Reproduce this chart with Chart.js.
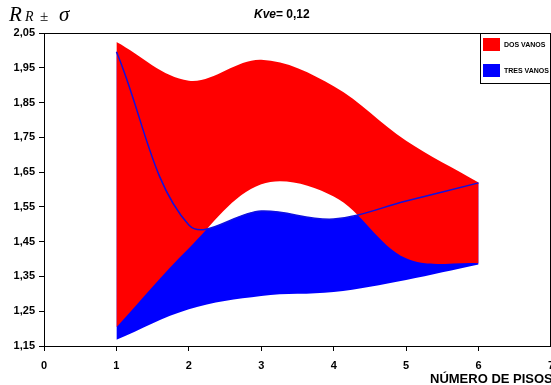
<!DOCTYPE html>
<html><head><meta charset="utf-8">
<script src="https://cdn.jsdelivr.net/npm/chart.js@4.4.0/dist/chart.umd.min.js"></script>
<style>html,body{margin:0;padding:0;background:#fff;overflow:hidden}#wrap{position:relative;width:551px;height:385px}</style>
</head><body><div id="wrap"><canvas id="c" width="551" height="385"></canvas></div>
<script>
const pisos = [1, 2, 3, 4, 5, 6];
const dosSup = [2.024, 1.913, 1.973, 1.897, 1.740, 1.620];
const dosInf = [1.204, 1.431, 1.615, 1.580, 1.402, 1.388];
const tresSup = [1.996, 1.498, 1.538, 1.515, 1.567, 1.619];
const tresInf = [1.168, 1.256, 1.294, 1.305, 1.340, 1.384];
const xTicks = [0, 1, 2, 3, 4, 5, 6, 7];
const yTicks = [1.15, 1.25, 1.35, 1.45, 1.55, 1.65, 1.75, 1.85, 1.95, 2.05];
const legendLabels = ['DOS VANOS', 'TRES VANOS'];
const titleText = 'Kve= 0,12';
const xTitle = 'NÚMERO DE PISOS';

const RED = '#ff0000', BLUE = '#0000ff';
const SANS = '"Liberation Sans", Arial, sans-serif';
const SERIF = '"Liberation Serif", "Times New Roman", serif';
Chart.defaults.font.family = SANS;

const pts = arr => pisos.map((x, i) => ({x: x, y: arr[i]}));
const T = 0.35, TB = 0.36;

const decor = {
  id: 'decor',
  afterDraw(chart) {
    const ctx = chart.ctx, a = chart.chartArea;
    ctx.save();
    // frame top & right
    ctx.strokeStyle = '#000'; ctx.lineWidth = 1;
    ctx.beginPath();
    ctx.moveTo(a.left, a.top + 0.5); ctx.lineTo(a.right, a.top + 0.5);
    ctx.moveTo(a.right - 0.5, a.top); ctx.lineTo(a.right - 0.5, a.bottom);
    ctx.stroke();
    // legend
    ctx.fillStyle = '#fff';
    ctx.fillRect(481, 34, 70, 50);
    ctx.strokeStyle = '#000';
    ctx.strokeRect(480.5, 33.5, 70, 50);
    ctx.fillStyle = RED; ctx.fillRect(483, 38, 17, 13);
    ctx.fillStyle = BLUE; ctx.fillRect(483, 64, 17, 13);
    ctx.fillStyle = '#000';
    ctx.font = 'bold 7px ' + SANS;
    ctx.textBaseline = 'middle'; ctx.textAlign = 'left';
    ctx.fillText(legendLabels[0], 504, 45);
    ctx.fillText(legendLabels[1], 504, 71);
    // title R_R ± sigma
    ctx.textBaseline = 'alphabetic';
    ctx.font = 'italic 21px ' + SERIF;
    ctx.fillText('R', 9, 21);
    ctx.font = 'italic 14px ' + SERIF;
    ctx.fillText('R', 25, 21);
    ctx.font = '15px ' + SERIF;
    ctx.fillText('±', 40, 21);
    ctx.font = 'italic 21px ' + SERIF;
    ctx.fillText('σ', 59, 21);
    // Kve title
    ctx.font = 'bold italic 12px ' + SANS;
    ctx.fillText('Kve', 254, 18);
    const w = ctx.measureText('Kve').width;
    ctx.font = 'bold 12px ' + SANS;
    ctx.fillText(titleText.slice(3), 254 + w, 18);
    // x title
    ctx.font = 'bold 13px ' + SANS;
    ctx.fillText(xTitle, 430, 383);
    ctx.restore();
  }
};

new Chart(document.getElementById('c'), {
  type: 'line',
  data: {
    datasets: [
      {label: 'dosInf', data: pts(dosInf), borderWidth: 0, pointRadius: 0, fill: false, tension: T, order: 3},
      {label: 'DOS VANOS', data: pts(dosSup), borderWidth: 0, borderColor: RED, backgroundColor: RED, pointRadius: 0, fill: 0, tension: T, order: 2},
      {label: 'tresInf', data: pts(tresInf), borderWidth: 0, pointRadius: 0, fill: false, tension: T, order: 5},
      {label: 'TRES VANOS', data: pts(tresSup), borderWidth: 0, borderColor: BLUE, backgroundColor: BLUE, pointRadius: 0, fill: 2, tension: TB, order: 4},
      {label: 'tresSupLine', data: pts(tresSup), borderWidth: 1.5, borderColor: '#1010e0', pointRadius: 0, fill: false, tension: TB, order: 0}
    ]
  },
  options: {
    responsive: false,
    animation: false,
    layout: {padding: {top: 33, left: 0, right: 0, bottom: 0}},
    plugins: {legend: {display: false}, tooltip: {enabled: false}, filler: {propagate: false}},
    scales: {
      x: {
        type: 'linear', min: 0, max: 7,
        afterBuildTicks: s => { s.ticks = xTicks.map(v => ({value: v})); },
        afterFit: s => { s.height = 39; s.paddingLeft = 0; s.paddingRight = 0; },
        ticks: {color: '#000', font: {size: 11, weight: 'bold'}, padding: 8, maxRotation: 0, autoSkip: false, callback: v => String(v)},
        grid: {drawOnChartArea: false, drawTicks: true, tickLength: 5, color: '#000'},
        border: {color: '#000', width: 1}
      },
      y: {
        min: 1.15, max: 2.05,
        afterBuildTicks: s => { s.ticks = yTicks.map(v => ({value: v})); },
        afterFit: s => { s.width = 44; s.paddingTop = 0; s.paddingBottom = 0; },
        ticks: {color: '#000', font: {size: 11, weight: 'bold'}, padding: 4, autoSkip: false, callback: v => v.toFixed(2).replace('.', ',')},
        grid: {drawOnChartArea: false, drawTicks: true, tickLength: 5, color: '#000'},
        border: {color: '#000', width: 1}
      }
    }
  },
  plugins: [decor]
});
</script></body></html>
